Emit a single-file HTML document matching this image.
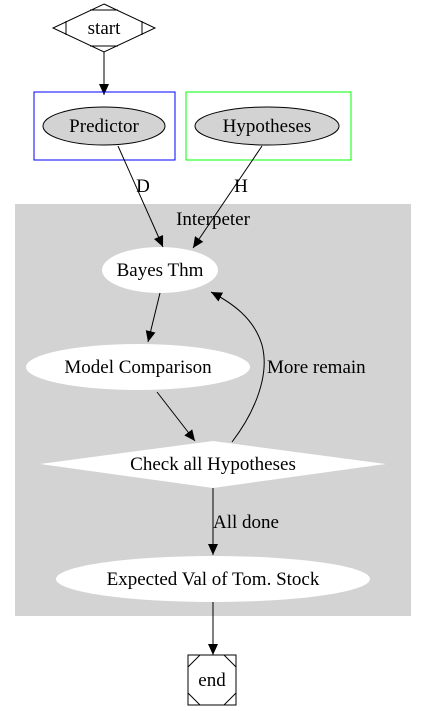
<!DOCTYPE html>
<html><head><style>body{margin:0;background:#fff}svg{display:block}</style></head><body>
<svg width="427" height="711" viewBox="0 0 427 711" font-family="'Liberation Serif', 'Times New Roman', serif" font-size="19" text-anchor="middle">
<defs><marker id="a" markerWidth="11" markerHeight="10" refX="11" refY="5" orient="auto" markerUnits="userSpaceOnUse"><path d="M0,0 L11,5 L0,10Z" fill="#000"/></marker></defs>
<polygon points="104,4 155,28 104,52 53,28" fill="#fff" stroke="#000"/>
<line x1="90" y1="10" x2="118" y2="10" stroke="#000"/>
<line x1="66" y1="21" x2="66" y2="35" stroke="#000"/>
<line x1="142" y1="21" x2="142" y2="35" stroke="#000"/>
<line x1="90" y1="46" x2="118" y2="46" stroke="#000"/>
<text x="104" y="34">start</text>
<line x1="104" y1="52" x2="104" y2="95" stroke="#000" marker-end="url(#a)"/>
<rect x="34" y="92" width="141" height="68" fill="none" stroke="#0000ff"/>
<ellipse cx="104" cy="126" rx="61" ry="19" fill="#d3d3d3" stroke="#000"/>
<text x="104" y="132">Predictor</text>
<rect x="186" y="92" width="165" height="68" fill="none" stroke="#00ff00"/>
<ellipse cx="267" cy="126" rx="72" ry="19" fill="#d3d3d3" stroke="#000"/>
<text x="267" y="132">Hypotheses</text>
<rect x="15" y="204" width="396" height="412" fill="#d3d3d3"/>
<text x="213" y="225">Interpeter</text>
<ellipse cx="160" cy="270" rx="58" ry="23" fill="#fff"/>
<text x="160" y="276">Bayes Thm</text>
<ellipse cx="138" cy="367" rx="112" ry="23" fill="#fff"/>
<text x="138" y="373">Model Comparison</text>
<polygon points="213,441 386,464 213,488 40,464" fill="#fff"/>
<text x="213" y="470">Check all Hypotheses</text>
<ellipse cx="213" cy="579" rx="157" ry="23" fill="#fff"/>
<text x="213" y="585">Expected Val of Tom. Stock</text>
<line x1="118" y1="146" x2="163" y2="247" stroke="#000" marker-end="url(#a)"/>
<text x="143" y="192">D</text>
<line x1="262" y1="146" x2="193" y2="248" stroke="#000" marker-end="url(#a)"/>
<text x="241" y="192">H</text>
<line x1="160" y1="293" x2="148" y2="342" stroke="#000" marker-end="url(#a)"/>
<line x1="157" y1="392" x2="195" y2="441" stroke="#000" marker-end="url(#a)"/>
<path d="M232,442 C255,412 270,375 262,345 C254,318 232,303 211,292" fill="none" stroke="#000" marker-end="url(#a)"/>
<text x="267" y="373" text-anchor="start">More remain</text>
<line x1="213" y1="488" x2="213" y2="555" stroke="#000" marker-end="url(#a)"/>
<text x="213" y="528" text-anchor="start">All done</text>
<line x1="213" y1="602" x2="213" y2="655" stroke="#000" marker-end="url(#a)"/>
<rect x="188" y="655" width="48" height="50" fill="#fff" stroke="#000"/>
<line x1="188" y1="667" x2="200" y2="655" stroke="#000"/>
<line x1="224" y1="655" x2="236" y2="667" stroke="#000"/>
<line x1="188" y1="693" x2="200" y2="705" stroke="#000"/>
<line x1="224" y1="705" x2="236" y2="693" stroke="#000"/>
<text x="212" y="686">end</text>
</svg>
</body></html>
